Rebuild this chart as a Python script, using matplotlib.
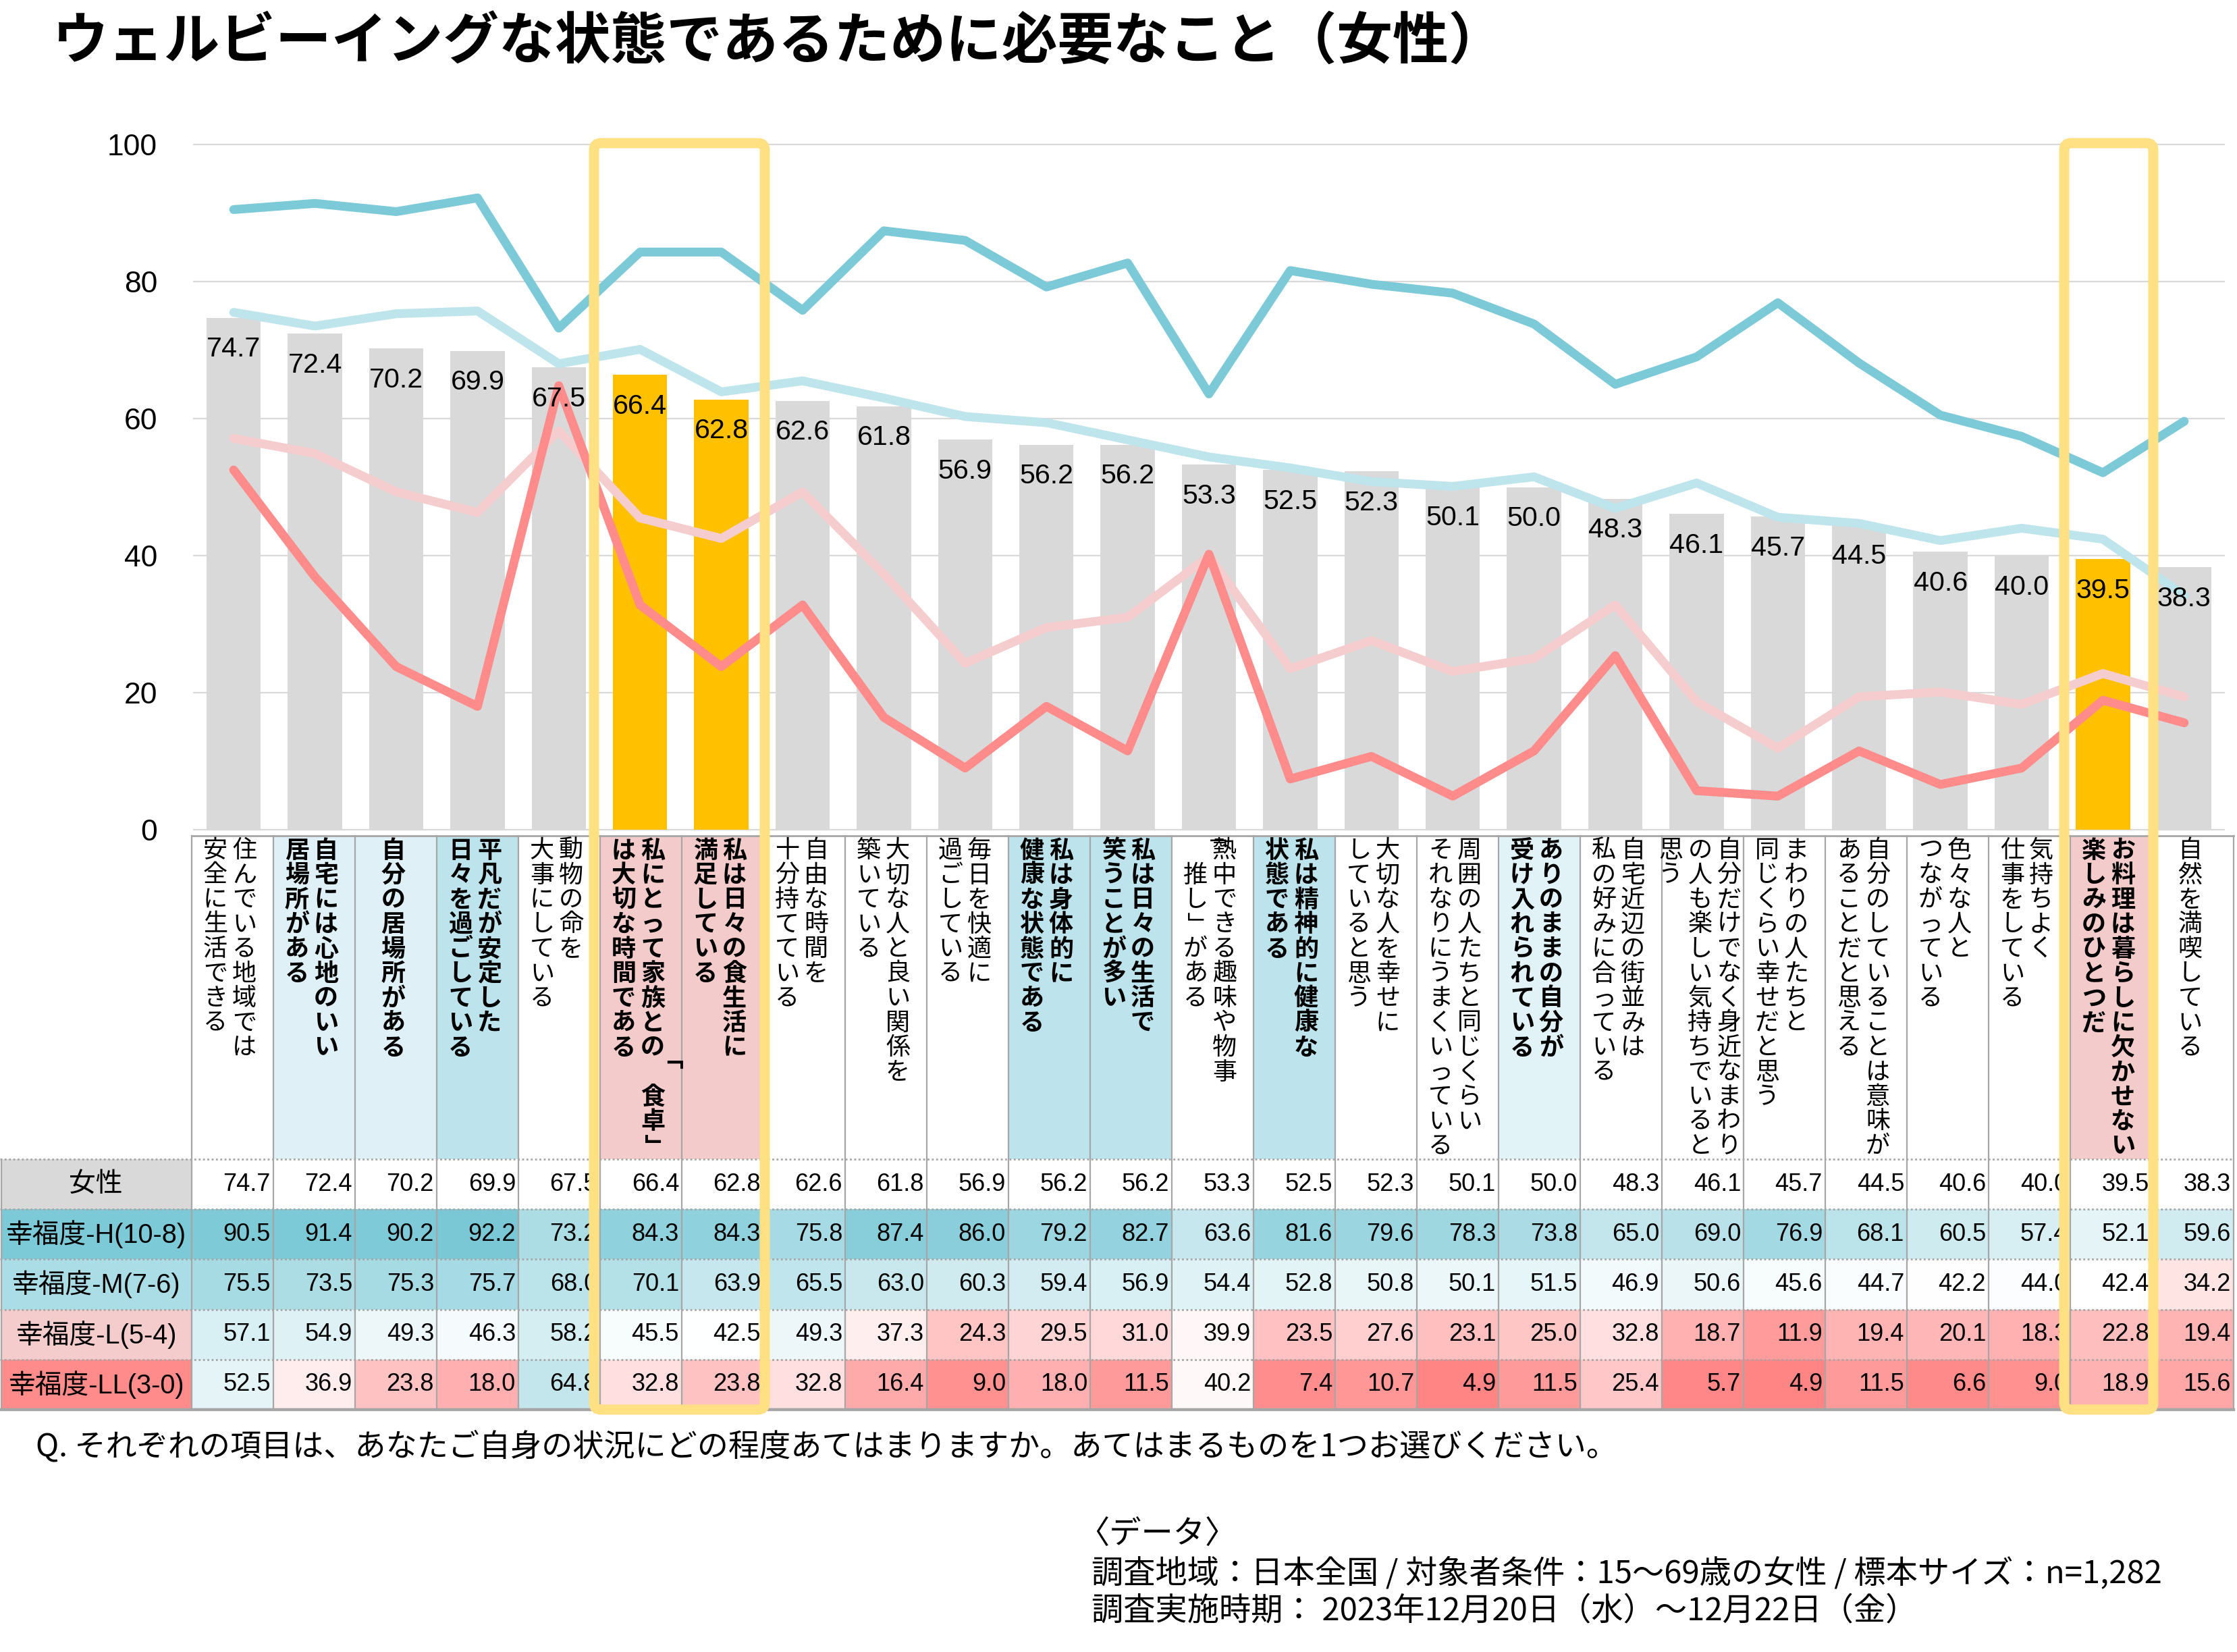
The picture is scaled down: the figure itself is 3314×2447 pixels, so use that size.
import matplotlib
matplotlib.use("Agg")
import matplotlib.pyplot as plt
import numpy as np
from matplotlib.patches import Rectangle, FancyBboxPatch
from matplotlib.colors import LinearSegmentedColormap, TwoSlopeNorm

# ---------------- data ----------------
title = "ウェルビーイングな状態であるために必要なこと（女性）"

# category labels, each split into its vertical columns (first = rightmost)
categories = [
    ["住んでいる地域では", "安全に生活できる"],
    ["自宅には心地のいい", "居場所がある"],
    ["自分の居場所がある"],
    ["平凡だが安定した", "日々を過ごしている"],
    ["動物の命を", "大事にしている"],
    ["私にとって家族との「食卓」", "は大切な時間である"],
    ["私は日々の食生活に", "満足している"],
    ["自由な時間を", "十分持てている"],
    ["大切な人と良い関係を", "築いている"],
    ["毎日を快適に", "過ごしている"],
    ["私は身体的に", "健康な状態である"],
    ["私は日々の生活で", "笑うことが多い"],
    ["熱中できる趣味や物事", "「推し」がある"],
    ["私は精神的に健康な", "状態である"],
    ["大切な人を幸せに", "していると思う"],
    ["周囲の人たちと同じくらい", "それなりにうまくいっている"],
    ["ありのままの自分が", "受け入れられている"],
    ["自宅近辺の街並みは", "私の好みに合っている"],
    ["自分だけでなく身近なまわり", "の人も楽しい気持ちでいると", "思う"],
    ["まわりの人たちと", "同じくらい幸せだと思う"],
    ["自分のしていることは意味が", "あることだと思える"],
    ["色々な人と", "つながっている"],
    ["気持ちよく", "仕事をしている"],
    ["お料理は暮らしに欠かせない", "楽しみのひとつだ"],
    ["自然を満喫している"],
]

row_names = ["女性", "幸福度-H(10-8)", "幸福度-M(7-6)", "幸福度-L(5-4)", "幸福度-LL(3-0)"]

female = [74.7, 72.4, 70.2, 69.9, 67.5, 66.4, 62.8, 62.6, 61.8, 56.9, 56.2, 56.2, 53.3,
          52.5, 52.3, 50.1, 50.0, 48.3, 46.1, 45.7, 44.5, 40.6, 40.0, 39.5, 38.3]
happy_H = [90.5, 91.4, 90.2, 92.2, 73.2, 84.3, 84.3, 75.8, 87.4, 86.0, 79.2, 82.7, 63.6,
           81.6, 79.6, 78.3, 73.8, 65.0, 69.0, 76.9, 68.1, 60.5, 57.4, 52.1, 59.6]
happy_M = [75.5, 73.5, 75.3, 75.7, 68.0, 70.1, 63.9, 65.5, 63.0, 60.3, 59.4, 56.9, 54.4,
           52.8, 50.8, 50.1, 51.5, 46.9, 50.6, 45.6, 44.7, 42.2, 44.0, 42.4, 34.2]
happy_L = [57.1, 54.9, 49.3, 46.3, 58.2, 45.5, 42.5, 49.3, 37.3, 24.3, 29.5, 31.0, 39.9,
           23.5, 27.6, 23.1, 25.0, 32.8, 18.7, 11.9, 19.4, 20.1, 18.3, 22.8, 19.4]
happy_LL = [52.5, 36.9, 23.8, 18.0, 64.8, 32.8, 23.8, 32.8, 16.4, 9.0, 18.0, 11.5, 40.2,
            7.4, 10.7, 4.9, 11.5, 25.4, 5.7, 4.9, 11.5, 6.6, 9.0, 18.9, 15.6]

yticks = [0, 20, 40, 60, 80, 100]

highlight_bars = [5, 6, 23]           # gold bars
boxed_columns = [(5, 7), (23, 24)]    # yellow frames (column ranges)
bold_cols = [1, 2, 3, 5, 6, 10, 11, 13, 16, 23]
label_bg = {1: "#DFF1F6", 2: "#DFF1F6", 16: "#E2F3F8",
            3: "#BDE4EC", 10: "#BDE4EC", 11: "#BDE4EC", 13: "#BDE4EC",
            5: "#F4CBCB", 6: "#F4CBCB", 23: "#F4CBCB"}

question = "Q. それぞれの項目は、あなたご自身の状況にどの程度あてはまりますか。あてはまるものを1つお選びください。"
data_lines = ["〈データ〉",
              "調査地域：日本全国 / 対象者条件：15〜69歳の女性 / 標本サイズ：n=1,282",
              "調査実施時期： 2023年12月20日（水）～12月22日（金）"]

# ---------------- styling ----------------
W, H = 3314, 2447
DPI = 200
CJK = ["Noto Sans CJK JP", "DejaVu Sans"]
LAT = ["Liberation Sans", "Noto Sans CJK JP", "DejaVu Sans"]
GRAY_BAR = "#D9D9D9"
GOLD = "#FFC000"
LINE_COLORS = ["#7CC9D7", "#BEE4EC", "#F5CDCE", "#FF8B8B"]
HDR_COLORS = ["#D9D9D9", "#7CC9D7", "#ABDDE7", "#F4CCCC", "#FF8B8B"]
BOX_COLOR = "#FFE083"
GRID = "#A6A6A6"
HEAT_MID = 42.5   # colour-scale midpoint (white)

fig = plt.figure(figsize=(W / DPI, H / DPI), dpi=DPI, facecolor="white")


def fx(x):
    return x / W


def fy(y):
    return 1 - y / H


# ---------------- chart ----------------
PXU = 10.15
AX_L, AX_R = 286, 3296
AX_T, AX_B = 214 - 0.4 * PXU, 1229 + 0.4 * PXU
ax = fig.add_axes([fx(AX_L), fy(AX_B), (AX_R - AX_L) / W, (AX_B - AX_T) / H])
x = np.arange(len(female))
bar_colors = [GOLD if i in highlight_bars else GRAY_BAR for i in x]
ax.bar(x, female, width=0.668, color=bar_colors, zorder=2)
for xi, v in zip(x, female):
    ax.text(xi, v - 4.6, f"{v:.1f}", ha="center", va="center", fontsize=14.8,
            family=LAT, color="black", zorder=6)
for vals, col in zip([happy_H, happy_M, happy_L, happy_LL], LINE_COLORS):
    ax.plot(x, vals, color=col, lw=4.7, solid_capstyle="round",
            solid_joinstyle="round", zorder=4)
ax.set_xlim(-0.5, len(female) - 0.5)
ax.set_ylim(-0.4, 100.4)
ax.set_yticks(yticks)
ax.set_yticklabels([str(t) for t in yticks], fontsize=16, family=LAT)
ax.set_xticks([])
ax.tick_params(axis="y", length=0, pad=19)
for s in ax.spines.values():
    s.set_visible(False)
ax.yaxis.grid(True, color="#D9D9D9", lw=0.8, zorder=0)
ax.set_axisbelow(True)

# ---------------- overlay: table, labels, frames, texts ----------------
ov = fig.add_axes([0, 0, 1, 1])
ov.set_xlim(0, W)
ov.set_ylim(H, 0)
ov.axis("off")
ov.patch.set_visible(False)

TX0, CW = 284, 121
TY0, TY1, RH = 1238, 1717, 74.2
NCOL = len(categories)
TXR = TX0 + NCOL * CW
TYB = TY1 + 5 * RH

# label backgrounds
for i, c in label_bg.items():
    ov.add_patch(Rectangle((TX0 + i * CW, TY0), CW, TY1 - TY0, color=c, lw=0, zorder=1))

# heatmap cells
rows = [female, happy_H, happy_M, happy_L, happy_LL]
allv = np.array(rows[1:]).ravel()
cmap = LinearSegmentedColormap.from_list("hm", ["#FF8585", "#FFFFFF", "#7AC8D6"])
norm = TwoSlopeNorm(vmin=allv.min(), vcenter=HEAT_MID, vmax=allv.max())
for r, vals in enumerate(rows):
    y0 = TY1 + r * RH
    ov.add_patch(Rectangle((2, y0), TX0 - 2, RH, color=HDR_COLORS[r], lw=0, zorder=1))
    ov.text(TX0 / 2, y0 + RH / 2, row_names[r], ha="center", va="center",
            fontsize=14.3, family=LAT, zorder=3)
    for i, v in enumerate(vals):
        c = "white" if r == 0 else cmap(norm(v))
        ov.add_patch(Rectangle((TX0 + i * CW, y0), CW, RH, color=c, lw=0, zorder=1))
        ov.text(TX0 + (i + 1) * CW - 4, y0 + RH / 2, f"{v:.1f}", ha="right",
                va="center", fontsize=13, family=LAT, zorder=3)

# grid lines of the table
for i in range(NCOL + 1):
    xx = TX0 + i * CW
    ov.plot([xx, xx], [TY0, TYB], color=GRID, lw=0.8, zorder=2)
ov.plot([1.5, 1.5], [TY1, TYB], color=GRID, lw=0.8, zorder=2)
ov.plot([TX0, TXR], [TY0, TY0], color=GRID, lw=1.0, zorder=2)
for r in range(5):
    yy = TY1 + r * RH
    ov.plot([0, TXR], [yy, yy], color=GRID, lw=1.0, ls=(0, (1, 1.3)), zorder=2)
ov.plot([0, TXR], [TYB, TYB], color=GRID, lw=1.6, zorder=2)

# vertical category labels
PITCH, Y_FIRST, COL_GAP, X_OFF = 36.5, 1260, 43, -4
for i, cols in enumerate(categories):
    n = len(cols)
    cx = TX0 + i * CW + CW / 2 + X_OFF
    wt = "bold" if i in bold_cols else "normal"
    for j, colstr in enumerate(cols):
        xj = cx + ((n - 1) / 2 - j) * COL_GAP
        for k, ch in enumerate(colstr):
            rot = -90 if ch in "「」" else 0
            ov.text(xj, Y_FIRST + k * PITCH, ch, ha="center", va="center",
                    rotation=rot, fontsize=13, family=CJK, fontweight=wt, zorder=3)

# yellow frames
for (c0, c1) in boxed_columns:
    x0 = TX0 + c0 * CW - 9
    x1 = TX0 + c1 * CW + 2
    ov.add_patch(FancyBboxPatch((x0, 212), x1 - x0, 2088 - 212,
                                boxstyle="round,pad=0,rounding_size=10",
                                fill=False, ec=BOX_COLOR, lw=5.4, zorder=10))

# title and footnotes
ov.text(78, 63, title, ha="left", va="center", fontsize=29.8, fontweight="bold",
        family=CJK, zorder=5)
ov.text(53, 2143, question, ha="left", va="center", fontsize=16.6, family=CJK, zorder=5)
ov.text(1596, 2274, data_lines[0], ha="left", va="center", fontsize=17.0, family=CJK)
ov.text(1617, 2331, data_lines[1], ha="left", va="center", fontsize=17.0, family=CJK)
ov.text(1617, 2386, data_lines[2], ha="left", va="center", fontsize=17.0, family=CJK)

fig.savefig("out.png", dpi=DPI, facecolor="white")
